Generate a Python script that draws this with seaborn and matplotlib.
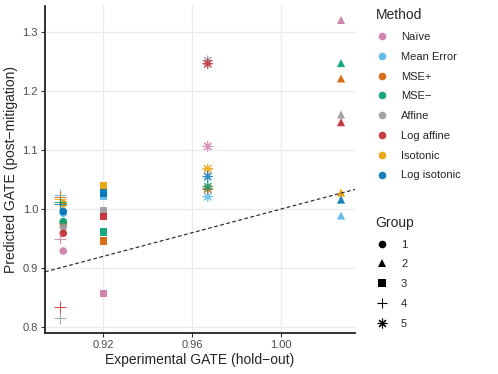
import numpy as np
import pandas as pd
import matplotlib
matplotlib.use('Agg')
import matplotlib.pyplot as plt
import seaborn as sns
from matplotlib.lines import Line2D

# Data
methods = ['Naïve', 'Mean Error', 'MSE+', 'MSE−', 'Affine', 'Log affine', 'Isotonic', 'Log isotonic']
colors = ['#CC79A7', '#56B4E9', '#D55E00', '#009E73', '#999999', '#C1272D', '#E69F00', '#0072B2']
groups = ['1', '2', '3', '4', '5']
group_x = [0.902, 1.027, 0.920, 0.9005, 0.967]

# predicted GATE per method, one list per group (method order as above)
g1 = [0.929, 0.993, 0.975, 0.979, 0.9695, 0.959, 1.009, 0.996]
g2 = [1.320, 0.989, 1.221, 1.247, 1.160, 1.147, 1.028, 1.016]
g3 = [0.857, 1.022, 0.946, 0.961, 0.997, 0.9875, 1.039, 1.027]
g4 = [0.950, 1.024, 1.020, 1.012, 0.815, 0.834, 1.017, 1.009]
g5 = [1.106, 1.021, 1.034, 1.038, 1.251, 1.246, 1.068, 1.055]
group_vals = [g1, g2, g3, g4, g5]

x_ticks = [0.92, 0.96, 1.00]
y_ticks = [0.8, 0.9, 1.0, 1.1, 1.2, 1.3]

rows = []
for g, gx, vals in zip(groups, group_x, group_vals):
    for m, v in zip(methods, vals):
        rows.append({'Group': g, 'Method': m, 'x': gx, 'y': v})
df = pd.DataFrame(rows)

sns.set_theme(style='white')
plt.rcParams['font.family'] = ['Liberation Sans', 'DejaVu Sans']

markers = {'1': 'o', '2': '^', '3': 's', '4': '+', '5': (8, 2, 0)}
sizes = {'1': 30, '2': 34, '3': 28, '4': 70, '5': 45}
palette = dict(zip(methods, colors))

fig = plt.figure(figsize=(4.98, 3.74), dpi=100)
ax = fig.add_axes([0.0904, 0.1088, 0.6225, 0.875])

for g in groups:
    sub = df[df['Group'] == g]
    mk = markers[g]
    if g in ('4', '5'):
        sns.scatterplot(data=sub, x='x', y='y', hue='Method', palette=palette,
                        marker=mk, s=sizes[g], linewidth=0.8, alpha=0.8,
                        legend=False, ax=ax)
    else:
        sns.scatterplot(data=sub, x='x', y='y', hue='Method', palette=palette,
                        marker=mk, s=sizes[g], linewidth=0, edgecolor='none',
                        alpha=0.9, legend=False, ax=ax)

# identity line
ax.axline((0.9, 0.9), slope=1, color='#333333', linestyle=(0, (3, 2)), linewidth=0.9, zorder=1)

ax.set_xlim(0.8938, 1.0333)
ax.set_ylim(0.7898, 1.3435)
ax.set_xticks(x_ticks)
ax.set_xticklabels([f'{t:.2f}' for t in x_ticks])
ax.set_yticks(y_ticks)
ax.set_yticklabels([f'{t:.1f}' for t in y_ticks])
ax.grid(True, color='#EBEBEB', linewidth=1.0)
ax.set_axisbelow(True)
for s in ['top', 'right']:
    ax.spines[s].set_visible(False)
for s in ['left', 'bottom']:
    ax.spines[s].set_color('#222222')
    ax.spines[s].set_linewidth(1.3)
ax.tick_params(axis='both', length=3, width=0.8, color='#333333',
               labelsize=8, labelcolor='#4D4D4D', pad=2, left=True, bottom=True)
ax.set_xlabel('Experimental GATE (hold−out)', fontsize=10, labelpad=2)
ax.set_ylabel('Predicted GATE (post−mitigation)', fontsize=10, labelpad=3)

# legends
m_handles = [Line2D([], [], marker='o', linestyle='', color=c, markersize=5.5,
                    markeredgewidth=0, alpha=0.9) for c in colors]
leg1 = fig.legend(m_handles, methods, title='Method', loc='upper left',
                  bbox_to_anchor=(0.745, 0.99), frameon=False, fontsize=8,
                  title_fontsize=10, handletextpad=1.1, labelspacing=0.88,
                  handlelength=1.2, borderaxespad=0)
leg1._legend_box.align = 'left'

g_handles = []
for g in groups:
    mk = markers[g]
    if g in ('4', '5'):
        g_handles.append(Line2D([], [], marker=mk, linestyle='', color='black',
                                markersize=7, markeredgewidth=0.8))
    else:
        g_handles.append(Line2D([], [], marker=mk, linestyle='', color='black',
                                markersize=5.5, markeredgewidth=0))
leg2 = fig.legend(g_handles, groups, title='Group', loc='upper left',
                  bbox_to_anchor=(0.745, 0.435), frameon=False, fontsize=8,
                  title_fontsize=10, handletextpad=1.1, labelspacing=0.88,
                  handlelength=1.2, borderaxespad=0)
leg2._legend_box.align = 'left'

fig.savefig('out.png', dpi=100)
